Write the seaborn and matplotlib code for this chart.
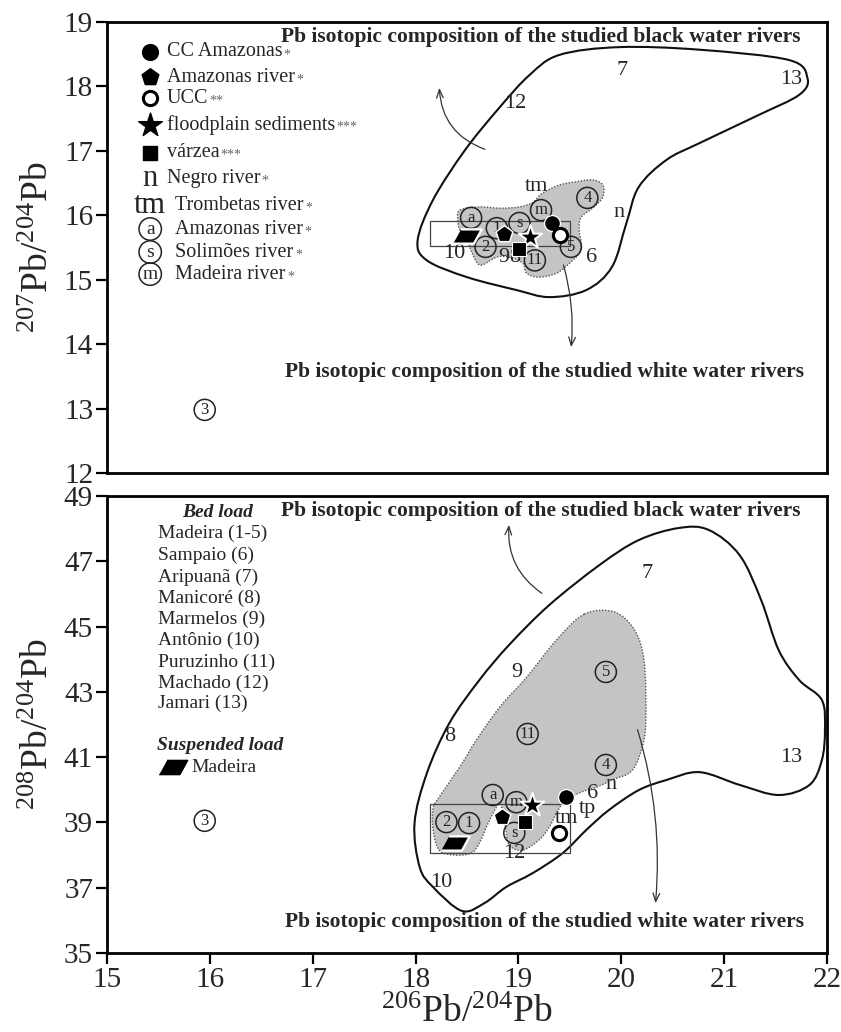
import numpy as np
import matplotlib
matplotlib.use("Agg")
import matplotlib.pyplot as plt
from matplotlib.path import Path
from matplotlib.patches import PathPatch, Rectangle
import seaborn as sns

sns.set_theme(style="ticks")
plt.rcParams["font.family"] = ["Liberation Serif", "DejaVu Serif"]
plt.rcParams["mathtext.fontset"] = "custom"
plt.rcParams["mathtext.rm"] = "Liberation Serif"
plt.rcParams["mathtext.it"] = "Liberation Serif:italic"
plt.rcParams["mathtext.bf"] = "Liberation Serif:bold"

# ---------------- reference materials ----------------
REF_KIND = ["cc", "amz", "ucc", "flood", "varzea", "susp"]
REF_206_A = [19.33, 18.86, 19.40, 19.11, 19.01, 18.50]
REF_207 = [15.88, 15.71, 15.69, 15.66, 15.48, 15.68]
REF_206_B = [19.46, 18.84, 19.39, 19.13, 19.06, 18.38]
REF_208 = [39.78, 39.17, 38.68, 39.53, 39.01, 38.37]

# circled river letters (Amazonas, Solimoes, Madeira)
RIV_LETTER = ["a", "s", "m"]
RIV_206_A = [18.54, 19.01, 19.22]
RIV_207 = [15.96, 15.88, 16.08]
RIV_206_B = [18.75, 18.96, 18.98]
RIV_208 = [39.84, 38.68, 39.62]

# plain river labels
TXT_RIV_A = ["n", "tm"]
TXT_RIV_206_A = [19.98, 19.18]
TXT_RIV_207 = [16.05, 16.44]
TXT_RIV_B = ["n", "tm", "tp"]
TXT_RIV_206_B = [19.90, 19.47, 19.67]
TXT_RIV_208 = [40.15, 39.13, 39.44]

# circled bed-load samples
BED_CIRC = ["1", "2", "3", "4", "5", "11"]
BED_206_A = [18.79, 18.68, 15.95, 19.67, 19.51, 19.16]
BED_207 = [15.80, 15.51, 12.98, 16.27, 15.51, 15.30]
BED_206_B = [18.52, 18.30, 15.95, 19.85, 19.85, 19.09]
BED_208 = [38.98, 39.01, 39.05, 40.76, 43.61, 41.71]

# bed-load samples labelled by number only
BED_NUM = ["6", "7", "8", "9", "10", "12", "13"]
NUM_206_A = [19.71, 20.01, 18.96, 18.86, 18.38, 18.97, 21.65]
NUM_207 = [15.34, 18.25, 15.34, 15.34, 15.41, 17.73, 18.10]
NUM_206_B = [19.72, 20.25, 18.33, 18.98, 18.25, 18.96, 21.65]
NUM_208 = [39.90, 46.64, 41.62, 43.58, 37.17, 38.06, 41.00]

# black water river field (outline)
BLACK_206_A = [19.40, 19.98, 20.76, 21.63, 21.81, 21.73, 21.34, 20.76, 20.44, 20.17,
               20.05, 19.91, 19.66, 19.30, 18.98, 18.50, 18.11, 18.02, 18.17, 18.48,
               18.82, 19.11]
BLACK_207 = [18.49, 18.61, 18.57, 18.41, 18.13, 17.87, 17.56, 17.12, 16.86, 16.44,
             15.88, 15.20, 14.84, 14.73, 14.84, 15.04, 15.30, 15.61, 16.24, 17.01,
             17.68, 18.18]
BLACK_206_B = [18.45, 18.17, 18.04, 17.99, 18.11, 18.33, 18.62, 18.91, 19.30, 19.79,
               20.17, 20.56, 20.85, 21.15, 21.36, 21.53, 21.73, 21.95, 21.98, 21.95,
               21.83, 21.53, 21.15, 20.76, 20.44, 20.17, 19.88, 19.66, 19.43, 19.14,
               18.88, 18.67]
BLACK_208 = [36.29, 37.02, 37.63, 38.98, 40.51, 42.05, 43.36, 44.44, 45.66, 46.89,
             47.65, 48.02, 47.96, 47.19, 45.81, 44.28, 43.36, 42.75, 41.83, 40.91,
             40.15, 39.84, 40.15, 40.54, 40.30, 39.99, 39.38, 38.77, 38.06, 37.45,
             37.02, 36.53]

# white water river field (shaded)
WHITE_206_A = [18.43, 18.62, 18.82, 19.01, 19.14, 19.23, 19.40, 19.56, 19.72, 19.82,
               19.82, 19.72, 19.61, 19.59, 19.61, 19.59, 19.50, 19.37, 19.20, 19.08,
               19.04, 18.91, 18.79, 18.65, 18.60, 18.55, 18.50, 18.43, 18.41]
WHITE_207 = [16.08, 16.13, 16.11, 16.13, 16.20, 16.34, 16.47, 16.52, 16.55, 16.47,
             16.28, 16.11, 15.97, 15.77, 15.57, 15.41, 15.26, 15.10, 15.04, 15.10,
             15.26, 15.35, 15.35, 15.23, 15.26, 15.41, 15.61, 15.77, 15.93]
WHITE_206_B = [19.64, 19.93, 20.13, 20.22, 20.24, 20.22, 20.11, 19.91, 19.76, 19.59,
               19.43, 19.30, 19.20, 19.04, 18.91, 18.87, 18.82, 18.72, 18.62, 18.54,
               18.38, 18.23, 18.17, 18.17, 18.23, 18.43, 18.59, 18.82, 19.08, 19.37]
WHITE_208 = [45.38, 45.45, 44.89, 43.98, 42.54, 41.52, 40.61, 40.30, 40.08, 39.90,
             39.59, 38.86, 38.46, 38.15, 38.31, 38.92, 39.56, 39.07, 38.37, 38.06,
             38.00, 38.15, 38.77, 39.44, 39.78, 40.70, 41.52, 42.54, 43.45, 44.59]

# Madeira suspended-load box
BOX_206 = [18.14, 19.50]
BOX_207 = [15.52, 15.91]
BOX_208 = [38.06, 39.56]

LEGEND_TOP = ["CC Amazonas", "Amazonas river", "UCC", "floodplain sediments",
              "várzea", "Negro river", "Trombetas river", "Amazonas river",
              "Solimões river", "Madeira river"]
LEGEND_MARK = ["*", "*", "**", "***", "***", "*", "*", "*", "*", "*"]
BED_LOAD = ["Madeira (1-5)", "Sampaio (6)", "Aripuanã (7)", "Manicoré (8)",
            "Marmelos (9)", "Antônio (10)", "Puruzinho (11)", "Machado (12)",
            "Jamari (13)"]
TITLE_BLACK = "Pb isotopic composition of the studied black water rivers"
TITLE_WHITE = "Pb isotopic composition of the studied white water rivers"

PARA = [(-1.0, -0.5), (0.45, -0.5), (1.0, 0.5), (-0.45, 0.5)]
MARKERS = {
    "cc": dict(marker="o", s=130, color="black"),
    "amz": dict(marker="p", s=160, color="black"),
    "ucc": dict(marker="o", s=105, facecolor="white", edgecolor="black", linewidth=2.2),
    "flood": dict(marker="*", s=320, color="black"),
    "varzea": dict(marker="s", s=100, color="black"),
    "susp": dict(marker=PARA, s=420, color="black"),
}


def smooth_closed(xs, ys):
    """Closed Catmull-Rom outline expressed as cubic Bezier segments."""
    p = np.column_stack([xs, ys])
    n = len(p)
    verts = [p[0]]
    codes = [Path.MOVETO]
    for i in range(n):
        p0, p1, p2, p3 = p[i - 1], p[i], p[(i + 1) % n], p[(i + 2) % n]
        verts += [p1 + (p2 - p0) / 6.0, p2 - (p3 - p1) / 6.0, p2]
        codes += [Path.CURVE4] * 3
    return Path(verts, codes)


def circled(ax, xs, ys, labels, fs=12):
    sns.scatterplot(x=xs, y=ys, marker="o", s=230, facecolor="none",
                    edgecolor="#222222", linewidth=1.1, ax=ax, zorder=6, legend=False)
    for x, y, t in zip(xs, ys, labels):
        ax.text(x, y, t, ha="center", va="center", fontsize=fs, color="#222222", zorder=7)


def draw_panel(ax, bx, by, wx, wy, rx, ry, box_y):
    ax.add_patch(PathPatch(smooth_closed(wx, wy), facecolor="#c4c4c4",
                           edgecolor="#555555", linestyle=(0, (1, 1.2)),
                           linewidth=1.0, zorder=2))
    ax.add_patch(PathPatch(smooth_closed(bx, by), facecolor="none",
                           edgecolor="#111111", linewidth=1.5, zorder=3))
    ax.add_patch(Rectangle((BOX_206[0], box_y[0]), BOX_206[1] - BOX_206[0],
                           box_y[1] - box_y[0], facecolor="none",
                           edgecolor="#444444", linewidth=0.9, zorder=4))
    for kind, x, y in zip(REF_KIND, rx, ry):
        sns.scatterplot(x=[x], y=[y], ax=ax, zorder=8, legend=False, **MARKERS[kind])


def arrow(ax, start, tip, rad):
    ax.annotate("", xy=tip, xytext=start,
                arrowprops=dict(arrowstyle="->,head_length=0.5,head_width=0.2",
                                connectionstyle=f"arc3,rad={rad}", lw=0.9,
                                color="#333333"))


fig = plt.figure(figsize=(8.41, 10.32), dpi=100)
ax1 = fig.add_axes([107 / 841, 1 - 473 / 1032, 720 / 841, 451 / 1032])
ax2 = fig.add_axes([107 / 841, 1 - 953 / 1032, 720 / 841, 457 / 1032])

# ---------------- upper panel: 207Pb/204Pb ----------------
draw_panel(ax1, BLACK_206_A, BLACK_207, WHITE_206_A, WHITE_207, REF_206_A, REF_207, BOX_207)
circled(ax1, RIV_206_A, RIV_207, RIV_LETTER)
circled(ax1, BED_206_A, BED_207, BED_CIRC)
for x, y, t in zip(TXT_RIV_206_A, TXT_RIV_207, TXT_RIV_A):
    ax1.text(x, y, t, ha="center", va="center", fontsize=16, zorder=7)
for x, y, t in zip(NUM_206_A, NUM_207, BED_NUM):
    ax1.text(x, y, t, ha="center", va="center", fontsize=16, zorder=7)

arrow(ax1, (18.70, 17.01), (18.23, 18.02), -0.35)
arrow(ax1, (19.43, 15.27), (19.51, 13.91), -0.1)
ax1.text(0.603, 0.967, TITLE_BLACK, transform=ax1.transAxes, ha="center", va="center",
         fontsize=15.5, fontweight="bold")
ax1.text(0.607, 0.224, TITLE_WHITE, transform=ax1.transAxes, ha="center", va="center",
         fontsize=15.5, fontweight="bold")

# key of the upper panel
leg_y = [0.9335, 0.878, 0.831, 0.772, 0.710, 0.654, 0.594, 0.541, 0.490, 0.441]
lx, tx = 0.06, 0.083
txt_x = [tx, tx, tx, tx, tx, tx, tx + 0.012, tx + 0.012, tx + 0.012, tx + 0.012]
for kind, yy in zip(["cc", "amz", "ucc", "flood", "varzea"], leg_y[:5]):
    ax1.scatter([lx], [yy], transform=ax1.transAxes, zorder=8, clip_on=False, **MARKERS[kind])
ax1.text(lx, leg_y[5], "n", transform=ax1.transAxes, ha="center", va="center", fontsize=22)
ax1.text(lx, leg_y[6], "tm", transform=ax1.transAxes, ha="center", va="center", fontsize=22)
for letter, yy in zip(RIV_LETTER, leg_y[7:]):
    ax1.scatter([lx], [yy], transform=ax1.transAxes, marker="o", s=260, facecolor="none",
                edgecolor="#222222", linewidth=1.1)
    ax1.text(lx, yy, letter, transform=ax1.transAxes, ha="center", va="center", fontsize=14)
for lab, mark, xx, yy in zip(LEGEND_TOP, LEGEND_MARK, txt_x, leg_y):
    t = ax1.text(xx, yy, lab, transform=ax1.transAxes, ha="left", va="center", fontsize=14.5)
    ax1.annotate(mark, xy=(1, 1), xycoords=t, xytext=(1, -4), textcoords="offset points",
                 ha="left", va="top", fontsize=10, color="#666666")

ax1.set_xlim(15, 22)
ax1.set_ylim(12, 19)
ax1.set_yticks(range(12, 20))
ax1.set_xticks([])
ax1.set_ylabel(r"$^{207}$Pb/$^{204}$Pb", fontsize=27, labelpad=6)

# ---------------- lower panel: 208Pb/204Pb ----------------
draw_panel(ax2, BLACK_206_B, BLACK_208, WHITE_206_B, WHITE_208, REF_206_B, REF_208, BOX_208)
circled(ax2, RIV_206_B, RIV_208, RIV_LETTER)
circled(ax2, BED_206_B, BED_208, BED_CIRC)
for x, y, t in zip(TXT_RIV_206_B, TXT_RIV_208, TXT_RIV_B):
    ax2.text(x, y, t, ha="center", va="center", fontsize=16, zorder=7)
for x, y, t in zip(NUM_206_B, NUM_208, BED_NUM):
    ax2.text(x, y, t, ha="center", va="center", fontsize=16, zorder=7)

arrow(ax2, (19.25, 45.97), (18.91, 48.20), -0.3)
arrow(ax2, (20.15, 41.92), (20.33, 36.44), -0.1)
ax2.text(0.603, 0.967, TITLE_BLACK, transform=ax2.transAxes, ha="center", va="center",
         fontsize=15.5, fontweight="bold")
ax2.text(0.607, 0.068, TITLE_WHITE, transform=ax2.transAxes, ha="center", va="center",
         fontsize=15.5, fontweight="bold")

# sample key of the lower panel
ax2.text(0.153, 0.963, "Bed load", transform=ax2.transAxes, ha="center", va="center",
         fontsize=14, fontweight="bold", fontstyle="italic")
bed_y = [0.919, 0.871, 0.823, 0.777, 0.731, 0.685, 0.637, 0.591, 0.547]
for lab, yy in zip(BED_LOAD, bed_y):
    ax2.text(0.071, yy, lab, transform=ax2.transAxes, ha="left", va="center", fontsize=14)
ax2.text(0.069, 0.453, "Suspended load", transform=ax2.transAxes, ha="left", va="center",
         fontsize=14, fontweight="bold", fontstyle="italic")
ax2.scatter([0.092], [0.407], transform=ax2.transAxes, marker=PARA, s=420, color="black")
ax2.text(0.117, 0.407, "Madeira", transform=ax2.transAxes, ha="left", va="center", fontsize=14)

ax2.set_xlim(15, 22)
ax2.set_ylim(35, 49)
ax2.set_yticks(range(35, 50, 2))
ax2.set_xticks(range(15, 23))
ax2.set_xlabel(r"$^{206}$Pb/$^{204}$Pb", fontsize=27, labelpad=2)
ax2.set_ylabel(r"$^{208}$Pb/$^{204}$Pb", fontsize=27, labelpad=6)

for ax in (ax1, ax2):
    ax.set_facecolor("white")
    for sp in ax.spines.values():
        sp.set_visible(True)
        sp.set_color("black")
        sp.set_linewidth(2.0)
    ax.tick_params(axis="both", direction="out", length=8, width=1.6, color="black",
                   labelsize=21, pad=2)

fig.savefig("out.png", dpi=100, facecolor="white")
